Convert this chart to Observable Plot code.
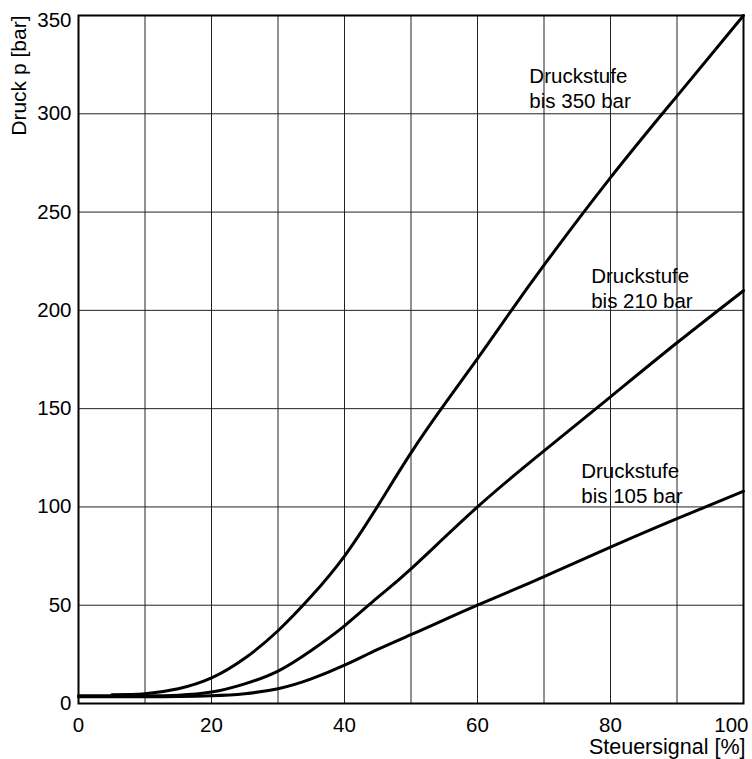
<!DOCTYPE html>
<html>
<head>
<meta charset="utf-8">
<script src="https://cdn.jsdelivr.net/npm/d3@7"></script>
<script src="https://cdn.jsdelivr.net/npm/@observablehq/plot@0.6"></script>
<style>
  html, body { margin: 0; padding: 0; background: white; }
  svg { display: block; }
</style>
</head>
<body>
<div id="chart"></div>
<script>
// Steuersignal [%] and pressure values per pressure stage
const x350 = [5, 10, 15, 20, 25, 30, 35, 40, 45, 50, 55, 60, 65, 70, 80, 90, 100];
const p350 = [4.5, 5, 7.5, 13, 23, 37, 54.5, 75, 100.5, 127.5, 152, 175.5, 199.5, 223, 267.5, 309, 350];

const x210 = [0, 10, 15, 20, 25, 30, 35, 40, 45, 50, 60, 70, 80, 90, 100];
const p210 = [3.9, 3.9, 4.2, 5.8, 10, 16.5, 27, 39.5, 54, 68.5, 100, 128.5, 156, 183.5, 210];

const x105 = [0, 10, 20, 25, 30, 35, 40, 45, 50, 55, 60, 70, 80, 90, 100];
const p105 = [3.4, 3.4, 4, 5, 7.5, 12.5, 19.5, 27.5, 35, 42.5, 50, 64.5, 79.5, 94, 108];

const stageNames = ["bis 350 bar", "bis 210 bar", "bis 105 bar"];
const labelText = ["Druckstufe\nbis 350 bar", "Druckstufe\nbis 210 bar", "Druckstufe\nbis 105 bar"];
const labelX = [67.8, 77.1, 75.6];
const labelY = [324.5, 222.8, 123.6];

const xTicks = [0, 20, 40, 60, 80];
const xTickLast = [100];
const yTicks = [0, 50, 100, 150, 200, 250, 300];
const yTickTop = [350];
const xGrid = [10, 20, 30, 40, 50, 60, 70, 80, 90];
const yGrid = [50, 100, 150, 200, 250, 300];

const xLabel = "Steuersignal [%]";
const yLabel = "Druck p [bar]";

const series = [
  [x350, p350, stageNames[0]],
  [x210, p210, stageNames[1]],
  [x105, p105, stageNames[2]]
];
const curveData = series.flatMap(([xs, ps, name]) => xs.map((x, i) => ({x, p: ps[i], stage: name})));
const labels = labelText.map((t, i) => ({x: labelX[i], y: labelY[i], text: t}));

const font = "'Liberation Sans', Arial, Helvetica, sans-serif";

const chart = Plot.plot({
  width: 752,
  height: 759,
  marginLeft: 78,
  marginRight: 9,
  marginTop: 15,
  marginBottom: 56,
  style: {fontFamily: font, fontSize: "20px", color: "black", background: "white"},
  x: {domain: [0, 100]},
  y: {domain: [0, 350]},
  marks: [
    Plot.ruleX(xGrid, {stroke: "#222", strokeWidth: 1}),
    Plot.ruleY(yGrid, {stroke: "#222", strokeWidth: 1}),
    Plot.line(curveData, {x: "x", y: "p", z: "stage", curve: "natural", stroke: "black", strokeWidth: 3}),
    Plot.frame({stroke: "black", strokeWidth: 2}),
    Plot.axisX(xTicks, {tickSize: 0, tickPadding: 14, label: null, fontSize: 20.5}),
    Plot.axisX(xTickLast, {tickSize: 0, tickPadding: 14, label: null, fontSize: 20.5, textAnchor: "end", dx: 5}),
    Plot.axisY(yTicks, {tickSize: 0, tickPadding: 7, label: null, fontSize: 20.5}),
    Plot.axisY(yTickTop, {tickSize: 0, tickPadding: 7, label: null, fontSize: 20.5, dy: 5}),
    Plot.text([yLabel], {frameAnchor: "top-left", rotate: -90, textAnchor: "end", lineAnchor: "middle", dx: -59, fontSize: 21}),
    Plot.text([xLabel], {frameAnchor: "bottom-right", textAnchor: "end", lineAnchor: "middle", dx: 2, dy: 44, fontSize: 21.5}),
    Plot.text(labels, {x: "x", y: "y", text: "text", textAnchor: "start", lineAnchor: "top", lineHeight: 1.2, fontSize: 20.5, fill: "black"})
  ]
});
document.getElementById("chart").appendChild(chart);
</script>
</body>
</html>
